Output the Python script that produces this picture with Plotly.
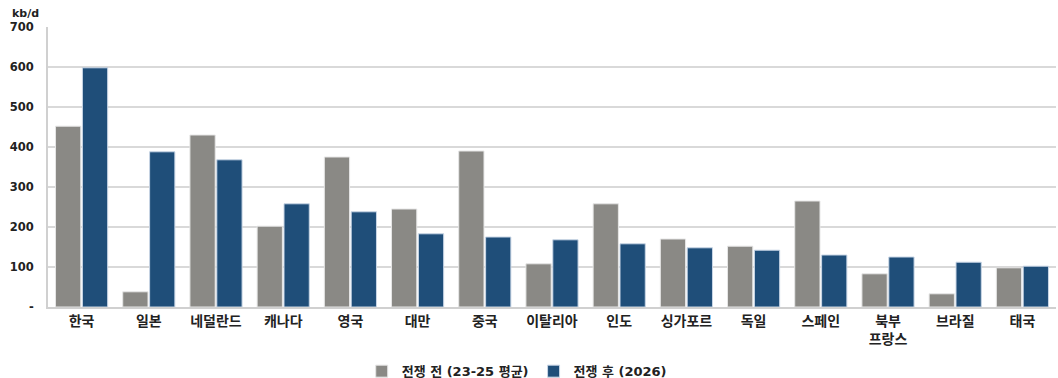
import plotly.graph_objects as go

categories = ["한국", "일본", "네덜란드", "캐나다", "영국", "대만", "중국", "이탈리아", "인도",
              "싱가포르", "독일", "스페인", "북부<br>프랑스", "브라질", "태국"]
before = [452, 38, 430, 202, 375, 245, 390, 108, 258, 170, 152, 265, 83, 33, 98]
after = [598, 388, 368, 258, 238, 183, 175, 168, 158, 148, 142, 130, 125, 112, 102]
tick_vals = [0, 100, 200, 300, 400, 500, 600, 700]
tick_text = ["-", "100", "200", "300", "400", "500", "600", "700"]

font_family = "DejaVu Sans, Noto Sans CJK KR, sans-serif"

fig = go.Figure()
fig.add_bar(x=categories, y=before, name="전쟁 전 (23-25 평균)",
            marker=dict(color="#8a8985", line=dict(color="#e6e6e6", width=1)))
fig.add_bar(x=categories, y=after, name="전쟁 후 (2026)",
            marker=dict(color="#1f4e79", line=dict(color="#c9d6e6", width=1)))

fig.update_layout(
    width=1058, height=378,
    margin=dict(l=48, r=2, t=27, b=71),
    paper_bgcolor="white", plot_bgcolor="white",
    barmode="group", bargap=0.2, bargroupgap=0.06,
    font=dict(family=font_family, size=12, color="#222222"),
    showlegend=True,
    legend=dict(orientation="h", x=0.465, xanchor="center",
                yref="container", y=0.018, yanchor="middle",
                font=dict(size=13, color="#222222", weight="bold"),
                itemwidth=30, traceorder="normal"),
    xaxis=dict(showline=True, linecolor="#d0d0d0", linewidth=2, ticks="",
               tickfont=dict(size=14, weight="bold", color="#222222")),
    yaxis=dict(range=[0, 700], tickvals=tick_vals, ticktext=tick_text,
               showgrid=True, gridcolor="#d9d9d9", gridwidth=2,
               showline=True, linecolor="#d0d0d0", linewidth=2,
               zeroline=False, ticks="", ticklabelstandoff=10,
               tickfont=dict(size=11.5, weight="bold", color="#222222")),
)
fig.add_annotation(text="<b>kb/d</b>", xref="paper", yref="paper", x=-0.038, y=1.0,
                   xanchor="left", yanchor="bottom", yshift=5, showarrow=False,
                   font=dict(size=11, color="#222222"))

fig.write_html("out.html")
